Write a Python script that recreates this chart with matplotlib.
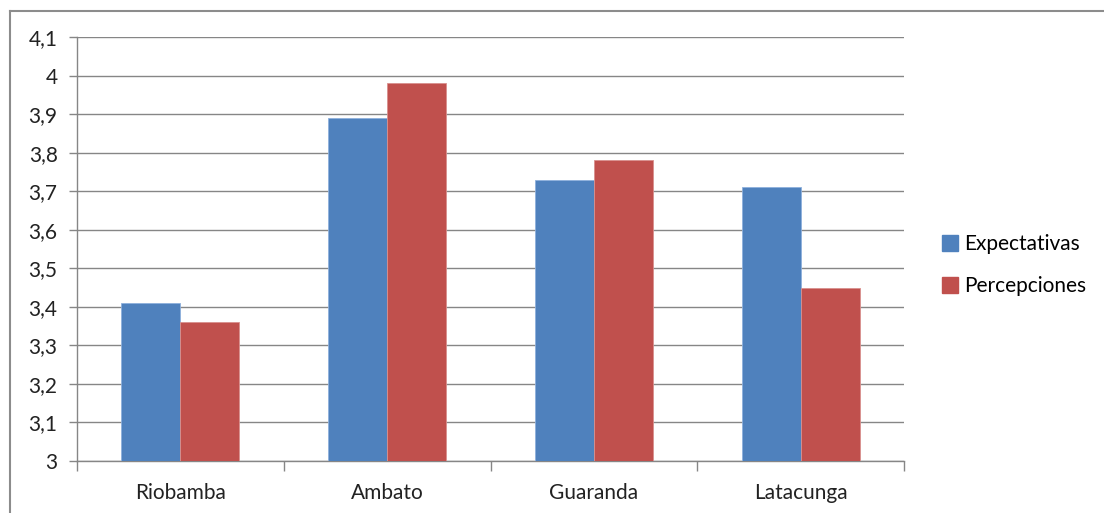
import numpy as np
import matplotlib.pyplot as plt
from matplotlib.lines import Line2D
from matplotlib.ticker import FixedLocator

plt.rcParams['font.family'] = ['Lato', 'DejaVu Sans']

# data
ciudades = ['Riobamba', 'Ambato', 'Guaranda', 'Latacunga']
expectativas = [3.41, 3.89, 3.73, 3.71]
percepciones = [3.36, 3.98, 3.78, 3.45]
series_names = ['Expectativas', 'Percepciones']
y_ticks = [3.0, 3.1, 3.2, 3.3, 3.4, 3.5, 3.6, 3.7, 3.8, 3.9, 4.0, 4.1]

blue = '#4f81bd'
red = '#c0504d'
grey = '#868686'
fs = 15

fig = plt.figure(figsize=(11.04, 5.13), dpi=100)
ax = fig.add_axes([77 / 1104, 1 - 461 / 513, (904 - 77) / 1104, (461 - 37) / 513])

x = np.arange(len(ciudades))
w = 1 / 3.5  # excel gap width 150%
ax.bar(x - w / 2, np.array(expectativas) - 3, w, bottom=3, color=blue,
       edgecolor='#8eb0dc', linewidth=0.6, label=series_names[0], zorder=3)
ax.bar(x + w / 2, np.array(percepciones) - 3, w, bottom=3, color=red,
       edgecolor='#d9908e', linewidth=0.6, label=series_names[1], zorder=3)

ax.set_xlim(-0.5, len(ciudades) - 0.5)
ax.set_ylim(3, 4.1)
ax.set_yticks(y_ticks)
ax.set_yticklabels([('%g' % v).replace('.', ',') for v in y_ticks], fontsize=fs, color='#222222')
ax.yaxis.grid(True, color=grey, linewidth=1.0, zorder=0)
ax.set_axisbelow(True)

ax.set_xticks(x)
ax.set_xticklabels(ciudades, fontsize=fs, color='#222222')
ax.tick_params(axis='x', which='major', length=0, pad=16)
ax.xaxis.set_minor_locator(FixedLocator(np.arange(-0.5, len(ciudades), 1.0)))
ax.tick_params(axis='x', which='minor', length=7, color=grey, width=1)
ax.tick_params(axis='y', length=6, color=grey, width=1, pad=8)

for s in ['top', 'right']:
    ax.spines[s].set_visible(False)
for s in ['left', 'bottom']:
    ax.spines[s].set_color(grey)
    ax.spines[s].set_linewidth(1)

handles = [Line2D([0], [0], marker='s', linestyle='none', markersize=11,
                  markerfacecolor=c, markeredgecolor=c) for c in (blue, red)]
fig.legend(handles, series_names, loc='center left', bbox_to_anchor=(932 / 1104, 1 - 265 / 513),
           frameon=False, fontsize=fs, handlelength=0.7, handletextpad=0.35,
           labelspacing=1.05, borderpad=0)

# outer chart frame (only top and left edges visible in the crop)
fig.add_artist(Line2D([10 / 1104, 10 / 1104], [0, 1 - 11 / 513], transform=fig.transFigure,
                      color='#8c8c8c', linewidth=1.5))
fig.add_artist(Line2D([10 / 1104, 1], [1 - 11 / 513, 1 - 11 / 513], transform=fig.transFigure,
                      color='#8c8c8c', linewidth=1.5))

fig.savefig('out.png', dpi=100)
